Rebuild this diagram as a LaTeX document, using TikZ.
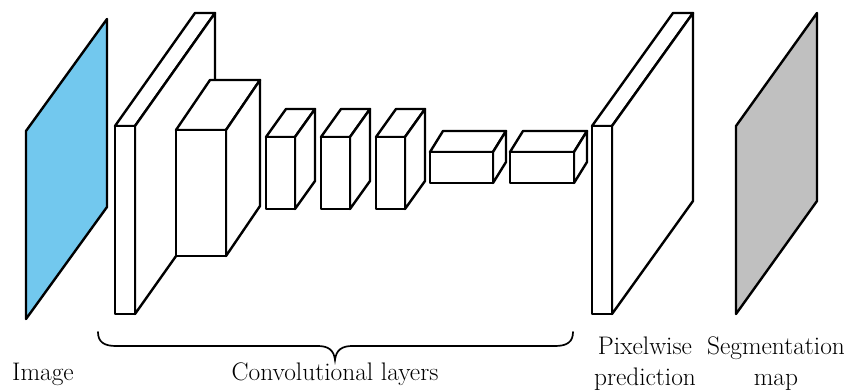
\documentclass[tikz,border=0pt]{standalone}
\usepackage{fontspec}
\definecolor{imgblue}{HTML}{72C8EE}
\definecolor{seggray}{HTML}{C0C0C0}
\usetikzlibrary{calc}
\tikzset{
  edge/.style={line width=2.4pt, line join=round, draw=black},
  face/.style={edge, fill=white},
  lbl/.style={font=\rmfamily\fontsize{25.4}{30}\selectfont, inner sep=0pt, anchor=base}
}
% cuboid: name, x1, y1 (front top-left), x2, y2 (front bottom-right), dx, dy (depth offset)
\newcommand\mycuboid[7]{%
  \coordinate (#1-a) at (#2,#3);
  \coordinate (#1-b) at (#4,#3);
  \coordinate (#1-c) at (#4,#5);
  \coordinate (#1-d) at (#2,#5);
  \coordinate (#1-e) at ($(#1-a)+(#6,#7)$);
  \coordinate (#1-f) at ($(#1-b)+(#6,#7)$);
  \coordinate (#1-g) at ($(#1-c)+(#6,#7)$);
  \draw[face] (#1-a) -- (#1-e) -- (#1-f) -- (#1-b) -- cycle;
  \draw[face] (#1-b) -- (#1-f) -- (#1-g) -- (#1-c) -- cycle;
  \draw[face] (#1-a) rectangle (#1-c);
}
\begin{document}
\begin{tikzpicture}[x=1pt,y=-1pt]
\useasboundingbox (0,0) rectangle (848,390);
% input image plane
\coordinate (im1) at (26,131);
\coordinate (im2) at (107,19);
\coordinate (im3) at (107,207);
\coordinate (im4) at (26,319);
\draw[edge, fill=imgblue] (im1) -- (im2) -- (im3) -- (im4) -- cycle;
% convolutional layers
\mycuboid{c1}{115}{126}{135}{314}{80}{-113}
\mycuboid{c2}{176}{130}{226}{256}{34}{-50}
\mycuboid{c3}{266}{137}{295}{209}{20}{-28}
\mycuboid{c4}{321}{137}{350}{209}{20}{-28}
\mycuboid{c5}{376}{137}{405}{209}{20}{-28}
\mycuboid{c6}{430}{152}{493}{183}{13}{-21}
\mycuboid{c7}{510}{152}{574}{183}{13}{-21}
% pixelwise prediction slab
\mycuboid{pp}{592}{126}{612}{314}{81}{-113}
% segmentation map plane
\coordinate (sm1) at (736,126);
\coordinate (sm2) at (817,13);
\coordinate (sm3) at (817,201);
\coordinate (sm4) at (736,314);
\draw[edge, fill=seggray] (sm1) -- (sm2) -- (sm3) -- (sm4) -- cycle;
% brace
\coordinate (bl) at (98,332);
\coordinate (br) at (573,332);
\coordinate (bt) at (335,360);
\draw[line width=1.7pt, line cap=round] (bl) .. controls (98,342) and (104,346) .. (116,346)
  -- (318,346) .. controls (328,346) and (334,350) .. (bt)
  .. controls (336,350) and (342,346) .. (352,346)
  -- (555,346) .. controls (567,346) and (573,342) .. (br);
% labels
\node[lbl] (limg) at (43,380) {Image};
\node[lbl] (lconv) at (335,380) {Convolutional layers};
\node[lbl] (lpix1) at (645,354) {Pixelwise};
\node[lbl] (lpix2) at (645,385) {prediction};
\node[lbl] (lseg1) at (776,354) {Segmentation};
\node[lbl] (lseg2) at (776,385) {map};
\end{tikzpicture}
\end{document}
